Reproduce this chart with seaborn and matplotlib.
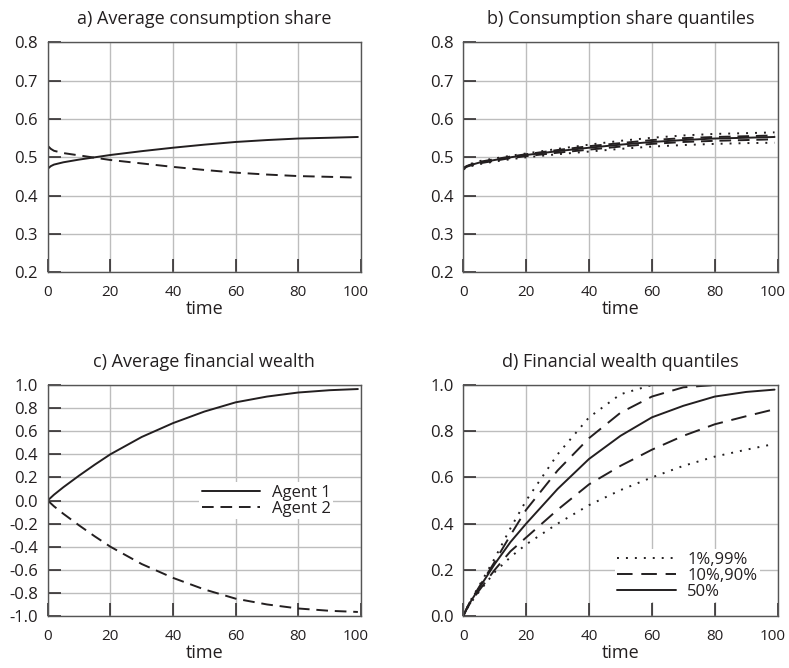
import numpy as np
import pandas as pd
import matplotlib
matplotlib.use("Agg")
import matplotlib.pyplot as plt
import matplotlib.transforms as mtransforms
import seaborn as sns

# ---- data ----
time = [0, 1, 2, 5, 10, 15, 20, 30, 40, 50, 60, 70, 80, 90, 99]

# a) average consumption share
cs_agent1 = [0.470, 0.477, 0.481, 0.487, 0.494, 0.500, 0.506, 0.516, 0.525, 0.533, 0.540, 0.545, 0.549, 0.551, 0.553]
cs_agent2 = [0.530, 0.522, 0.517, 0.511, 0.505, 0.499, 0.493, 0.484, 0.475, 0.467, 0.460, 0.455, 0.451, 0.449, 0.447]

# b) consumption share quantiles
cs_q01 = [0.468, 0.473, 0.476, 0.482, 0.489, 0.495, 0.500, 0.508, 0.515, 0.522, 0.528, 0.532, 0.535, 0.537, 0.538]
cs_q10 = [0.469, 0.475, 0.478, 0.484, 0.491, 0.498, 0.503, 0.512, 0.520, 0.528, 0.535, 0.540, 0.543, 0.545, 0.547]
cs_q50 = [0.470, 0.476, 0.479, 0.486, 0.493, 0.500, 0.506, 0.516, 0.525, 0.533, 0.540, 0.545, 0.549, 0.551, 0.553]
cs_q90 = [0.471, 0.477, 0.480, 0.488, 0.495, 0.502, 0.508, 0.519, 0.529, 0.537, 0.545, 0.550, 0.553, 0.555, 0.557]
cs_q99 = [0.472, 0.479, 0.482, 0.490, 0.497, 0.504, 0.510, 0.522, 0.533, 0.543, 0.551, 0.557, 0.561, 0.563, 0.565]

# c) average financial wealth
fw_agent1 = [0.0, 0.025, 0.05, 0.115, 0.215, 0.31, 0.40, 0.55, 0.67, 0.77, 0.85, 0.90, 0.935, 0.955, 0.965]
fw_agent2 = [0.0, -0.025, -0.05, -0.115, -0.215, -0.31, -0.40, -0.55, -0.67, -0.77, -0.85, -0.90, -0.935, -0.955, -0.965]

# d) financial wealth quantiles
fw_q01 = [0.0, 0.027, 0.05, 0.105, 0.19, 0.255, 0.31, 0.40, 0.48, 0.545, 0.60, 0.65, 0.69, 0.72, 0.745]
fw_q10 = [0.0, 0.028, 0.052, 0.11, 0.20, 0.28, 0.34, 0.46, 0.57, 0.65, 0.72, 0.78, 0.83, 0.865, 0.895]
fw_q50 = [0.0, 0.03, 0.055, 0.12, 0.225, 0.32, 0.40, 0.55, 0.68, 0.78, 0.86, 0.91, 0.95, 0.97, 0.98]
fw_q90 = [0.0, 0.03, 0.058, 0.125, 0.235, 0.35, 0.46, 0.63, 0.77, 0.88, 0.95, 0.99, 1.0, 1.0, 1.0]
fw_q99 = [0.0, 0.03, 0.06, 0.13, 0.25, 0.38, 0.50, 0.70, 0.86, 0.96, 1.0, 1.0, 1.0, 1.0, 1.0]

titles = ["a) Average consumption share", "b) Consumption share quantiles",
          "c) Average financial wealth", "d) Financial wealth quantiles"]
legend_c = ["Agent 1", "Agent 2"]
legend_d = ["1%,99%", "10%,90%", "50%"]

# ---- style ----
sns.set_theme(style="white")
plt.rcParams["font.family"] = ["Open Sans", "DejaVu Sans"]

W, H = 789, 668
fig = plt.figure(figsize=(W / 100, H / 100), dpi=100)

def make_ax(x0, y0, x1, y1):
    return fig.add_axes([x0 / W, 1 - y1 / H, (x1 - x0) / W, (y1 - y0) / H])

ax_a = make_ax(47.7, 42.3, 361, 272.3)
ax_b = make_ax(463.3, 42.3, 777.7, 272.3)
ax_c = make_ax(47.7, 385, 361, 616)
ax_d = make_ax(463.3, 385, 777.7, 616)

K = "#231f20"
DASH_A = (0, (6, 3.5))
DASH_D = (0, (8, 4.5))
DOT = (0, (1, 3.6))
LW = 1.4

def style(ax, title, ylim, yticks, ytl):
    ax.set_xlim(0, 100)
    ax.set_ylim(*ylim)
    ax.set_xticks([0, 20, 40, 60, 80, 100])
    ax.set_yticks(yticks)
    ax.set_yticklabels(ytl)
    ax.grid(True, color="#bdbdbd", lw=1.0)
    ax.set_axisbelow(True)
    for s in ax.spines.values():
        s.set_color("#555555")
        s.set_linewidth(1.0)
    ax.tick_params(axis="both", direction="in", length=9.5, width=1.1, color=K,
                   bottom=True, left=True, top=False, right=False)
    ax.tick_params(axis="y", labelsize=12, pad=7, labelcolor=K)
    ax.tick_params(axis="x", labelsize=11, pad=9, labelcolor=K)
    ax.set_title(title, fontsize=13, color=K, pad=13)
    ax.set_xlabel("time", fontsize=13, color=K, labelpad=0)
    ax.set_ylabel("")
    # last x tick label sits slightly left of the axis end
    lab = ax.get_xticklabels()[-1]
    lab.set_transform(lab.get_transform() + mtransforms.ScaledTranslation(-5 / 100, 0, fig.dpi_scale_trans))

yt1 = [0.2, 0.3, 0.4, 0.5, 0.6, 0.7, 0.8]
style(ax_a, titles[0], (0.2, 0.8), yt1, [f"{v:.1f}" for v in yt1])
style(ax_b, titles[1], (0.2, 0.8), yt1, [f"{v:.1f}" for v in yt1])
yt3 = [-1.0, -0.8, -0.6, -0.4, -0.2, 0.0, 0.2, 0.4, 0.6, 0.8, 1.0]
style(ax_c, titles[2], (-1.0, 1.0), yt3, [f"{v:.1f}" for v in yt3])
yt4 = [0.0, 0.2, 0.4, 0.6, 0.8, 1.0]
style(ax_d, titles[3], (0.0, 1.0), yt4, [f"{v:.1f}" for v in yt4])

# a
sns.lineplot(x=time, y=cs_agent1, ax=ax_a, color=K, lw=LW, linestyle="-")
sns.lineplot(x=time, y=cs_agent2, ax=ax_a, color=K, lw=LW, linestyle=DASH_A)

# b
for q in (cs_q01, cs_q99):
    sns.lineplot(x=time, y=q, ax=ax_b, color=K, lw=LW, linestyle=DOT)
for q in (cs_q10, cs_q90):
    sns.lineplot(x=time, y=q, ax=ax_b, color=K, lw=LW, linestyle=DASH_A)
sns.lineplot(x=time, y=cs_q50, ax=ax_b, color=K, lw=LW, linestyle="-")

leg_kw = dict(loc="center", fontsize=12, handlelength=3.5, frameon=True, fancybox=False,
              framealpha=1, facecolor="white", edgecolor="none", labelspacing=0.0,
              borderpad=0.15, handletextpad=0.7, borderaxespad=0)

# c
sns.lineplot(x=time, y=fw_agent1, ax=ax_c, color=K, lw=LW, linestyle="-", label=legend_c[0])
sns.lineplot(x=time, y=fw_agent2, ax=ax_c, color=K, lw=LW, linestyle=DASH_A, label=legend_c[1])
leg = ax_c.legend(bbox_to_anchor=(0.698, 0.498), **leg_kw)
for t in leg.get_texts():
    t.set_color(K)

# d
sns.lineplot(x=time, y=fw_q01, ax=ax_d, color=K, lw=LW, linestyle=DOT, label=legend_d[0])
sns.lineplot(x=time, y=fw_q99, ax=ax_d, color=K, lw=LW, linestyle=DOT)
sns.lineplot(x=time, y=fw_q10, ax=ax_d, color=K, lw=LW, linestyle=DASH_D, label=legend_d[1])
sns.lineplot(x=time, y=fw_q90, ax=ax_d, color=K, lw=LW, linestyle=DASH_D)
sns.lineplot(x=time, y=fw_q50, ax=ax_d, color=K, lw=LW, linestyle="-", label=legend_d[2])
leg = ax_d.legend(bbox_to_anchor=(0.713, 0.175), **leg_kw)
for t in leg.get_texts():
    t.set_color(K)

fig.savefig("out.png", dpi=100)
